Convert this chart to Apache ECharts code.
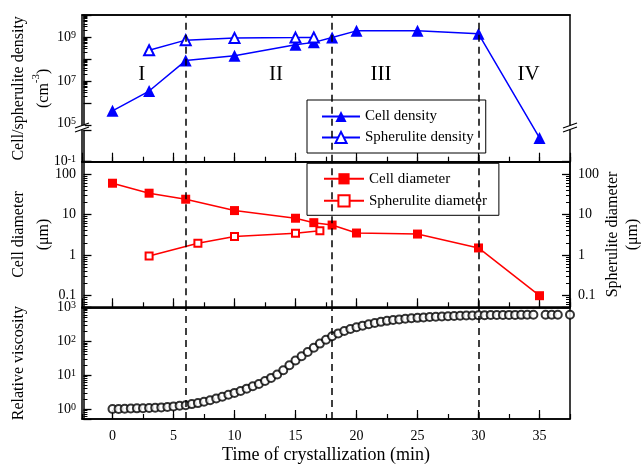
<!DOCTYPE html>
<html><head><meta charset="utf-8">
<script src="https://cdn.jsdelivr.net/npm/echarts@6/dist/echarts.min.js"></script>
<style>html,body{margin:0;padding:0;background:#fff}#c{width:641px;height:465px}</style>
</head><body><div id="c"></div>
<script>
const FONT = '"Liberation Serif", "Times New Roman", "DejaVu Serif", serif';

// ---- Top panel: cell / spherulite density (cm^-3)
const cellDensityTime = [0, 3, 6, 10, 15, 16.5, 18, 20, 25, 30, 35];
const cellDensity = [4.4e5, 3.5e6, 8.5e7, 1.4e8, 4.4e8, 5.7e8, 9.4e8, 1.9e9, 1.9e9, 1.4e9, 1.2];
const spheruliteDensityTime = [3, 6, 10, 15, 16.5];
const spheruliteDensity = [2.5e8, 7.2e8, 9.1e8, 9.4e8, 9.6e8];

// ---- Middle panel: diameters (um)
const cellDiameterTime = [0, 3, 6, 10, 15, 16.5, 18, 20, 25, 30, 35];
const cellDiameter = [59, 33.5, 23.8, 12.5, 8.1, 6.3, 5.5, 3.5, 3.3, 1.5, 0.1];
const spheruliteDiameterTime = [3, 7, 10, 15, 17];
const spheruliteDiameter = [0.95, 1.96, 2.86, 3.47, 4.0];

// ---- Bottom panel: relative viscosity
const viscosityTime = [0,0.5,1,1.5,2,2.5,3,3.5,4,4.5,5,5.5,6,6.5,7,7.5,8,8.5,9,9.5,10,10.5,11,11.5,12,12.5,13,13.5,14,14.5,15,15.5,16,16.5,17,17.5,18,18.5,19,19.5,20,20.5,21,21.5,22,22.5,23,23.5,24,24.5,25,25.5,26,26.5,27,27.5,28,28.5,29,29.5,30,30.5,31,31.5,32,32.5,33,33.5,34,34.5,35.5,36,36.5,37.5];
const viscosity = [1.00,1.01,1.02,1.04,1.05,1.06,1.08,1.10,1.12,1.15,1.20,1.25,1.30,1.40,1.50,1.65,1.82,2.05,2.30,2.65,3.0,3.4,4.0,4.7,5.5,6.7,8.3,10.5,14,19.5,27,36,48,64,85,110,140,170,200,230,258,288,315,345,372,398,420,440,458,474,488,502,515,527,537,547,555,563,570,576,582,586,590,593,595,597,598,599,600,600,601,601,602,602];

// ---- Regions and labels
const regionBoundaries = [6, 18, 30];
const regionNames = ['I', 'II', 'III', 'IV'];
const xTickLabels = [0, 5, 10, 15, 20, 25, 30, 35];

const zip = (a, b) => a.map((v, i) => [v, b[i]]);
const BLACK = '#000';
const BLUE = '#0000ff';
const RED = '#ff0000';

const supRich = {
  b: {fontSize: 14, fontFamily: FONT, color: BLACK, lineHeight: 14, verticalAlign: 'bottom'},
  s: {fontSize: 10, fontFamily: FONT, color: BLACK, lineHeight: 6, verticalAlign: 'top'}
};
function powLabel(v, keep) {
  const e = Math.log10(v);
  const r = Math.round(e);
  if (Math.abs(e - r) > 0.01) return '';
  if (!keep(r)) return '';
  return '{b|10}{s|' + r + '}';
}

const L = 82, R = 570;
const tops = [15, 161.7, 307.3, 419];
const grids = [0, 1, 2].map(i => ({
  left: L, width: R - L, top: tops[i], height: tops[i + 1] - tops[i],
  containLabel: false, outerBoundsMode: 'none',
  show: true, borderColor: BLACK, borderWidth: 1.5, backgroundColor: 'transparent'
}));

function xAxesFor(g, withLabels) {
  return [
    { // anchor axis for placing the left vertical axis just inside the frame
      type: 'value', gridIndex: g, position: 'bottom', min: -0.003, max: 1, show: false
    },
    { // minor ticks every 2.5
      type: 'value', gridIndex: g, position: 'bottom', min: -2.5, max: 37.5, interval: 2.5,
      axisLine: {show: true, onZero: false, lineStyle: {color: BLACK, width: 1.5}},
      axisTick: {show: true, inside: true, length: 5, lineStyle: {color: BLACK, width: 1.2}},
      axisLabel: {show: false}, splitLine: {show: false}
    },
    { // major ticks every 5
      type: 'value', gridIndex: g, position: 'bottom', min: -2.5, max: 37.5, splitNumber: 8,
      axisLine: {show: false, onZero: false},
      axisTick: {show: true, inside: true, length: 9, lineStyle: {color: BLACK, width: 1.2}},
      axisLabel: {show: withLabels, showMinLabel: false, showMaxLabel: false, margin: 10,
        fontFamily: FONT, fontSize: 14, color: BLACK,
        formatter: v => xTickLabels.includes(Math.round(v)) && Math.abs(v - Math.round(v)) < 1e-6 ? String(Math.round(v)) : ''},
      splitLine: {show: false},
      name: withLabels ? 'Time of crystallization (min)' : '',
      nameLocation: 'middle', nameGap: 27, nameMoveOverlap: false,
      nameTextStyle: {fontFamily: FONT, fontSize: 18, color: BLACK}
    },
    { // top frame line
      type: 'value', gridIndex: g, position: 'top', min: -2.5, max: 37.5,
      axisLine: {show: true, onZero: false, lineStyle: {color: BLACK, width: 1.5}},
      axisTick: {show: false}, axisLabel: {show: false}, splitLine: {show: false}
    }
  ];
}

function yTicks(onZero) {
  return {
    axisLine: {show: true, onZero: onZero, lineStyle: {color: BLACK, width: 1.5}},
    axisTick: {show: true, inside: true, length: 8, lineStyle: {color: BLACK, width: 1.3}},
    minorTick: {show: true, splitNumber: 9, length: 4, lineStyle: {color: BLACK, width: 1}},
    splitLine: {show: false}
  };
}

const yAxes = [
  Object.assign({ // 0 top panel, log with break
    type: 'log', logBase: 10, gridIndex: 0, position: 'left', min: 0.1, max: 1e10, interval: 1, splitNumber: 20,
    breaks: [{start: 2.76, end: 1e5, gap: '3.4%'}],
    breakArea: {show: false},
    axisLabel: {margin: 6, rich: supRich, hideOverlap: false, showMinLabel: true,
      formatter: v => powLabel(v, r => r <= 0 || (r % 2 === 1 && r < 10))},
    name: 'Cell/spherulite density\n(cm{s|-3})', nameLocation: 'middle', nameRotate: 90, nameGap: 26,
    nameMoveOverlap: false,
    nameTextStyle: {fontFamily: FONT, fontSize: 16, color: BLACK, lineHeight: 25,
      rich: {s: {fontFamily: FONT, fontSize: 11, color: BLACK, verticalAlign: 'top', lineHeight: 14}}}
  }, yTicks(true)),
  Object.assign({ // 1 middle left
    type: 'log', logBase: 10, gridIndex: 1, position: 'left', min: 0.0518, max: 200,
    axisLabel: {margin: 6, fontFamily: FONT, fontSize: 14, color: BLACK, showMinLabel: false, showMaxLabel: false,
      formatter: v => v >= 1 ? String(Math.round(v)) : String(+v.toPrecision(1))},
    name: 'Cell diameter\n(\u03bcm)', nameLocation: 'middle', nameRotate: 90, nameGap: 26,
    nameMoveOverlap: false,
    nameTextStyle: {fontFamily: FONT, fontSize: 16, color: BLACK, lineHeight: 25}
  }, yTicks(true)),
  Object.assign({ // 2 middle right
    type: 'log', logBase: 10, gridIndex: 1, position: 'right', min: 0.0518, max: 200,
    axisLabel: {margin: 8, fontFamily: FONT, fontSize: 14, color: BLACK, showMinLabel: false, showMaxLabel: false,
      formatter: v => v >= 1 ? String(Math.round(v)) : String(+v.toPrecision(1))},
    name: 'Spherulite diameter\n(\u03bcm)', nameLocation: 'middle', nameRotate: 90, nameGap: 33,
    nameMoveOverlap: false,
    nameTextStyle: {fontFamily: FONT, fontSize: 16, color: BLACK, lineHeight: 20}
  }, yTicks(false)),
  Object.assign({ // 3 bottom
    type: 'log', logBase: 10, gridIndex: 2, position: 'left', min: 0.51, max: 1000,
    axisLabel: {margin: 6, rich: supRich, showMinLabel: false, showMaxLabel: true,
      formatter: v => powLabel(v, r => true)},
    name: 'Relative viscosity', nameLocation: 'middle', nameRotate: 90, nameGap: 55,
    nameMoveOverlap: false,
    nameTextStyle: {fontFamily: FONT, fontSize: 16, color: BLACK}
  }, yTicks(true))
];

const dashLine = {
  silent: true, symbol: 'none', label: {show: false},
  lineStyle: {color: BLACK, type: [7, 5], width: 1.5},
  data: regionBoundaries.map(x => ({xAxis: x}))
};

const romanCoords = [[2.4, 2e7], [13.4, 2e7], [22, 2e7], [34.1, 2e7]];

// data x axes: grid0 -> 1, grid1 -> 5, grid2 -> 9
const option = {
  animation: false,
  backgroundColor: '#fff',
  textStyle: {fontFamily: FONT},
  grid: grids,
  xAxis: [...xAxesFor(0, false), ...xAxesFor(1, false), ...xAxesFor(2, true)],
  yAxis: yAxes,
  legend: [
    {
      data: ['Cell density', 'Spherulite density'], orient: 'vertical',
      left: 307, top: 100, padding: [9, 12, 8, 14], itemGap: 6, itemWidth: 38, itemHeight: 14,
      backgroundColor: '#fff', borderColor: BLACK, borderWidth: 1,
      textStyle: {fontFamily: FONT, fontSize: 15, color: BLACK}
    },
    {
      data: ['Cell diameter', 'Spherulite diameter'], orient: 'vertical',
      left: 307, top: 163.3, padding: [8, 12, 7, 16], itemGap: 7, itemWidth: 40, itemHeight: 14,
      backgroundColor: '#fff', borderColor: BLACK, borderWidth: 1,
      textStyle: {fontFamily: FONT, fontSize: 15, color: BLACK}
    }
  ],
  series: [
    {
      name: 'Cell density', type: 'line', xAxisIndex: 1, yAxisIndex: 0,
      data: zip(cellDensityTime, cellDensity),
      symbol: 'triangle', symbolSize: 12, color: BLUE,
      lineStyle: {color: BLUE, width: 1.5}, itemStyle: {color: BLUE},
      markLine: dashLine,
      markPoint: {
        symbol: 'circle', symbolSize: 1, itemStyle: {color: 'transparent'},
        label: {show: true, position: 'inside', fontFamily: FONT, fontSize: 21, color: BLACK, formatter: p => p.name},
        data: romanCoords.map((c, i) => ({name: regionNames[i], coord: c}))
      },
      z: 3
    },
    {
      name: 'Spherulite density', type: 'line', xAxisIndex: 1, yAxisIndex: 0,
      data: zip(spheruliteDensityTime, spheruliteDensity),
      symbol: 'emptyTriangle', symbolSize: 10, color: BLUE,
      lineStyle: {color: BLUE, width: 1.5}, itemStyle: {color: BLUE, borderWidth: 1.2}, z: 3
    },
    {
      name: 'Cell diameter', type: 'line', xAxisIndex: 5, yAxisIndex: 1,
      data: zip(cellDiameterTime, cellDiameter),
      symbol: 'rect', symbolSize: 9, color: RED,
      lineStyle: {color: RED, width: 1.5}, itemStyle: {color: RED},
      markLine: dashLine, z: 3
    },
    {
      name: 'Spherulite diameter', type: 'line', xAxisIndex: 5, yAxisIndex: 2,
      data: zip(spheruliteDiameterTime, spheruliteDiameter),
      symbol: 'emptyRect', symbolSize: 7, color: RED,
      lineStyle: {color: RED, width: 1.5}, itemStyle: {color: RED, borderWidth: 1.2}, z: 3
    },
    {
      name: 'Relative viscosity', type: 'scatter', xAxisIndex: 9, yAxisIndex: 3,
      data: zip(viscosityTime, viscosity),
      symbol: 'emptyCircle', symbolSize: 8, color: BLACK,
      itemStyle: {color: BLACK, borderWidth: 1.1},
      markLine: dashLine, z: 3
    }
  ]
};

const chart = echarts.init(document.getElementById('c'), null, {renderer: 'canvas'});
chart.setOption(option);

// break marks on the top panel's vertical axes
try {
  const yHi = chart.convertToPixel({yAxisIndex: 0}, 1e5);
  const yLo = chart.convertToPixel({yAxisIndex: 0}, 2.76);
  const ym = (yHi + yLo) / 2;
  const g = [];
  [L, R].forEach(x => {
    g.push({type: 'rect', shape: {x: x - 3, y: ym - 2, width: 6, height: 4}, style: {fill: '#fff'}, z: 100});
    [-2, 2].forEach(d => g.push({type: 'line', shape: {x1: x - 7, y1: ym + d + 2.5, x2: x + 7, y2: ym + d - 2.5},
      style: {stroke: BLACK, lineWidth: 1.3}, z: 101}));
  });
  chart.setOption({graphic: g});
} catch (e) { console.log(e); }
</script>
</body></html>
